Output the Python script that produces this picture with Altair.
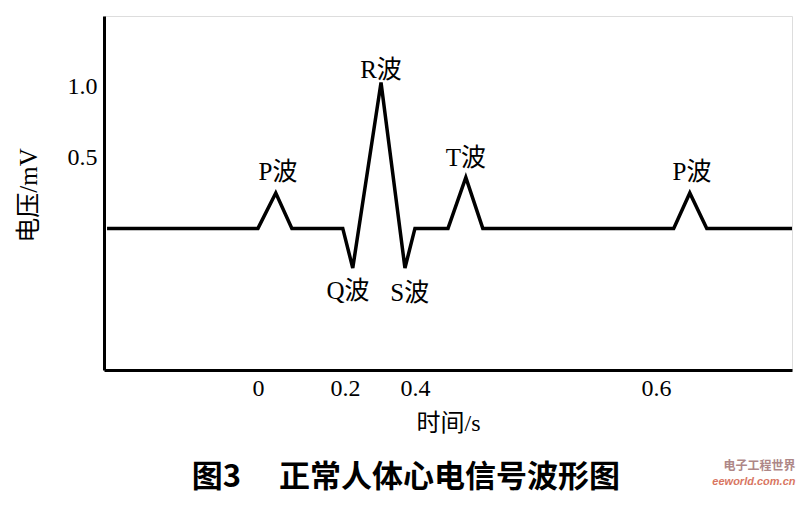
import altair as alt
import pandas as pd

# waveform vertices (time in chart units, voltage in mV)
wave_t = [-0.347, 0.0, 0.041, 0.078, 0.195, 0.218, 0.283, 0.338, 0.361, 0.437, 0.478, 0.517, 0.956, 0.993, 1.032, 1.228]
wave_v = [0.0, 0.0, 0.25, 0.0, 0.0, -0.28, 1.03, -0.28, 0.0, 0.0, 0.36, 0.0, 0.0, 0.25, 0.0, 0.0]

# wave name annotations
lab_text = ["P波", "R波", "Q波", "S波", "T波", "P波"]
lab_t = [0.046, 0.283, 0.207, 0.349, 0.478, 0.998]
lab_v = [0.40, 1.12, -0.44, -0.455, 0.50, 0.40]

# axis ticks
x_tick_pos = [0.000, 0.200, 0.361, 0.915]
x_tick_txt = ["0", "0.2", "0.4", "0.6"]
y_tick_pos = [0.5, 1.0]

# figure caption (placed below the axes)
caption = ["图3\u3000 正常人体心电信号波形图"]
cap_t = [0.340]
cap_v = [-1.76]

# source watermark (bottom right)
wm_text = ["电子工程世界", "eeworld.com.cn"]
wm_t = [1.236, 1.236]
wm_v = [-1.68, -1.79]

serif = "Liberation Serif, Noto Sans CJK SC"

wave = pd.DataFrame({"t": wave_t, "v": wave_v, "order": list(range(len(wave_t)))})
labels = pd.DataFrame({"t": lab_t, "v": lab_v, "txt": lab_text})
cap = pd.DataFrame({"t": cap_t, "v": cap_v, "txt": caption})
wm = pd.DataFrame({"t": wm_t, "v": wm_v, "txt": wm_text, "k": ["cn", "en"]})

mapping = "{" + ",".join(f"'{p:.3f}':'{s}'" for p, s in zip(x_tick_pos, x_tick_txt)) + "}"
label_expr = f"{mapping}[format(datum.value, '.3f')]"

xscale = alt.Scale(domain=[-0.354, 1.228], nice=False, zero=False)
yscale = alt.Scale(domain=[-1.0, 1.5], nice=False, zero=False)

line = alt.Chart(wave).mark_line(color="black", strokeWidth=3.5, strokeJoin="miter").encode(
    x=alt.X("t:Q", scale=xscale, axis=alt.Axis(
        title="时间/s", values=x_tick_pos, labelExpr=label_expr, ticks=False,
        grid=False, domainColor="black", domainWidth=3, labelFont=serif, labelFontSize=24,
        labelColor="black", labelPadding=6, labelFlush=False, labelOverlap=False,
        titleFont=serif, titleFontSize=24, titleFontWeight="normal", titleColor="black",
        titleX=344, titleY=53, titleBaseline="middle", titleAnchor="start", titleAlign="center")),
    y=alt.Y("v:Q", scale=yscale, axis=alt.Axis(
        title="电压/mV", values=y_tick_pos, format=".1f", ticks=False, grid=False,
        domainColor="black", domainWidth=3, labelFont=serif, labelFontSize=24,
        labelColor="black", labelPadding=7, labelBaseline="middle",
        titleFont=serif, titleFontSize=25, titleFontWeight="normal", titleColor="black",
        titleX=-76, titleY=179, titleAngle=-90, titleBaseline="middle", titleAlign="center",
        titleAnchor="start")),
    order="order:Q",
)

text = alt.Chart(labels).mark_text(font=serif, fontSize=25, color="black", baseline="middle", align="center").encode(
    x=alt.X("t:Q", scale=xscale),
    y=alt.Y("v:Q", scale=yscale),
    text="txt:N",
)

cap_mark = alt.Chart(cap).mark_text(
    font="Noto Sans CJK SC", fontSize=31, fontWeight="bold", color="black",
    align="center", baseline="middle").encode(
    x=alt.X("t:Q", scale=xscale), y=alt.Y("v:Q", scale=yscale), text="txt:N")

wm_cn = alt.Chart(wm).transform_filter("datum.k == 'cn'").mark_text(
    font="Noto Sans CJK SC", fontSize=12, fontWeight="bold", color="#9a6a6a", opacity=0.8,
    align="right", baseline="middle").encode(
    x=alt.X("t:Q", scale=xscale), y=alt.Y("v:Q", scale=yscale), text="txt:N")
wm_en = alt.Chart(wm).transform_filter("datum.k == 'en'").mark_text(
    font="Liberation Sans", fontSize=11, fontStyle="italic", fontWeight="bold", color="#d0553a",
    opacity=0.8, align="right", baseline="middle").encode(
    x=alt.X("t:Q", scale=xscale), y=alt.Y("v:Q", scale=yscale), text="txt:N")

chart = alt.layer(line, text, cap_mark, wm_cn, wm_en).properties(
    width=688, height=354,
    padding={"left": 96, "top": 8, "right": 7, "bottom": 127},
    autosize=alt.AutoSizeParams(type="none"),
).configure_view(stroke=None).configure(background="white")

chart.save("out.html", embed_options={"renderer": "svg", "actions": False})
